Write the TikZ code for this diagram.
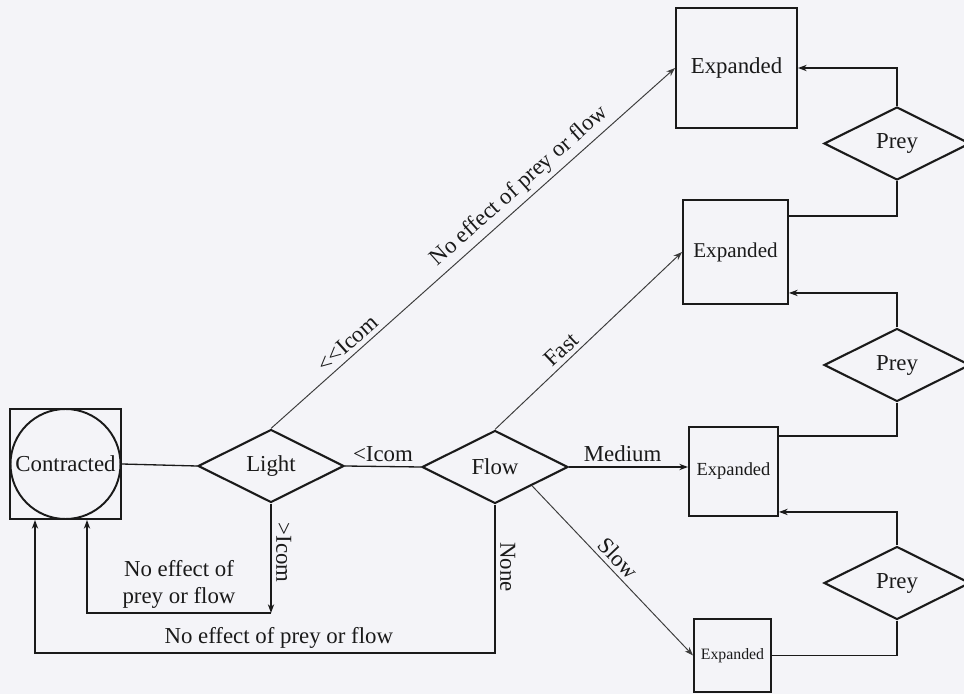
\documentclass[tikz,border=0pt]{standalone}
\usepackage{fontspec}
\setmainfont{Liberation Serif}
\usetikzlibrary{arrows.meta,shapes.geometric,calc}
\definecolor{ink}{HTML}{1A1A1A}
\definecolor{thin}{HTML}{3C3C3C}
\definecolor{paper}{HTML}{F4F4F8}

\begin{document}
\begin{tikzpicture}[
  x=0.02cm,y=0.02cm,
  font=\fontsize{13}{15}\selectfont,
  text=ink,
  state/.style={draw=ink,line width=1.1pt,inner sep=0pt,align=center},
  test/.style={diamond,draw=ink,line width=1.2pt,inner sep=0pt,
    minimum width=2.92cm,minimum height=1.46cm},
  link/.style={draw=ink,line width=0.75pt},
  flow/.style={link,-{Stealth[length=5pt,width=3.6pt]}},
  branch/.style={flow,draw=thin,line width=0.55pt},
  tag/.style={inner sep=2.5pt}
]
\fill[paper] (0,0) rectangle (964,694);
\useasboundingbox (0,0) rectangle (964,694);
% left side
\node[state,minimum width=2.22cm,minimum height=2.2cm] (contractedbox) at (65.5,230) {};
\node[state,circle,minimum size=2.2cm] (contracted) at (contractedbox) {Contracted};
\node[test] (light) at (271,228) {Light};
\node[test] (flow) at (495,227) {Flow};
% expanded states
\node[state,minimum width=2.42cm,minimum height=2.4cm] (exp1) at (736.5,626) {Expanded};
\node[state,minimum width=2.1cm,minimum height=2.08cm,font=\fontsize{12}{14}\selectfont]
  (exp2) at (735.5,442) {Expanded};
\node[state,minimum width=1.78cm,minimum height=1.78cm,font=\fontsize{10.5}{12}\selectfont]
  (exp3) at (733.5,222.5) {Expanded};
\node[state,minimum width=1.54cm,minimum height=1.46cm,font=\fontsize{9}{11}\selectfont]
  (exp4) at (732.5,38.5) {Expanded};
\node[test] (prey1) at (897,550.5) {Prey};
\node[test] (prey2) at (897,329) {Prey};
\node[test] (prey3) at (897,111) {Prey};
\coordinate (c1) at (271,81);
\coordinate (c2) at (87,81);
\coordinate (c3) at (495,41);
\coordinate (c4) at (35,41);
% connectors
\draw[link] (contractedbox.east) -- (light.west);
\draw[link] (light.east) -- node[tag,above] {<Icom} (flow.west);
\draw[branch] (light.north) -- node[tag,above,sloped,pos=0.21] {<{}<Icom}
  node[tag,above,sloped,pos=0.64] {No effect of prey or flow} (exp1.west);
\draw[branch] (flow.north) -- node[tag,above,sloped,pos=0.4] {Fast} (exp2.west);
\draw[flow] (flow.east) -- node[tag,above,pos=0.45] {Medium} (flow.east -| exp3.west);
\draw[branch] (flow.south east) -- node[tag,above,sloped,pos=0.48] {Slow} (exp4.west);
\draw[flow] (light.south) -- node[tag,rotate=-90,anchor=south,pos=0.45] {>Icom} (c1);
\draw[flow] (c1) -- node[tag,above,align=center] {No effect of\\prey or flow} (c2)
  -- (c2 |- contractedbox.south);
\draw[flow] (flow.south) -- node[tag,rotate=-90,anchor=south,pos=0.42] {None} (c3)
  -- node[tag,above,pos=0.47] {No effect of prey or flow} (c4)
  -- (c4 |- contractedbox.south);
% prey feedback
\draw[flow] (prey1.north) |- (exp1.east);
\draw[link] (prey1.south) |- ($(exp2.north east)+(0,-17)$);
\draw[flow] (prey2.north) |- ($(exp2.south east)+(0,12)$);
\draw[link] (prey2.south) |- ($(exp3.north east)+(0,-10)$);
\draw[flow] (prey3.north) |- ($(exp3.south east)+(0,5)$);
\draw[link] (prey3.south) |- (exp4.east);
\end{tikzpicture}
\end{document}
